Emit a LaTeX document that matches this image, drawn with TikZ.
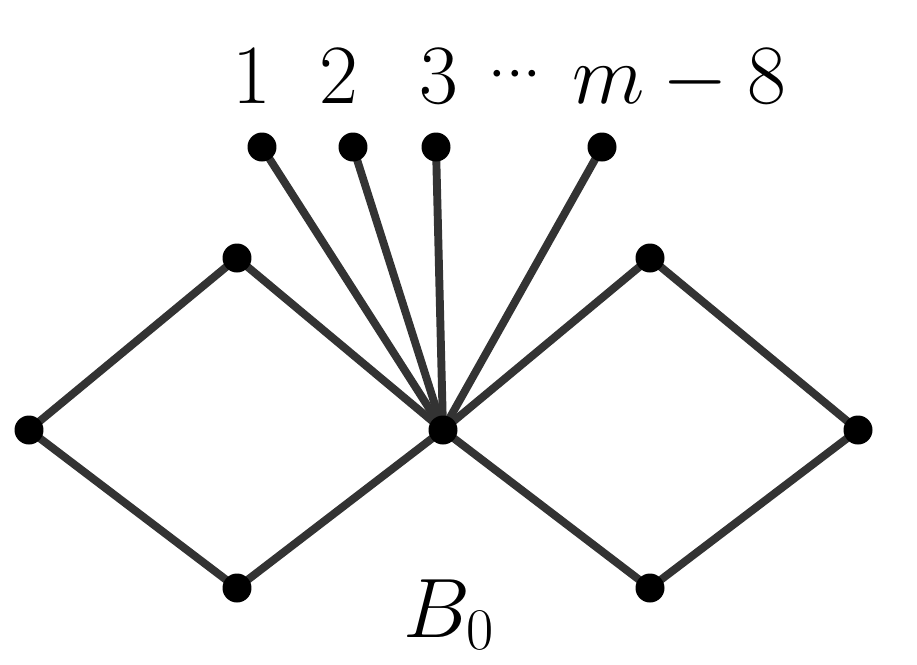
\documentclass[tikz,border=0pt]{standalone}
\usepackage{fix-cm}

\begin{document}
\begin{tikzpicture}
[x=0.02cm,y=-0.02cm,
  nodedecorate/.style={shape=circle,fill=black,inner sep=0pt,minimum size=0.58cm},%
  edgedecorate/.style={line width=4.5pt,draw=black!80},%
  labeldecorate/.style={anchor=base,inner sep=0pt,font=\fontsize{48}{58}\selectfont}]
\useasboundingbox (0,0) rectangle (917,664);
%% nodes or vertices
\foreach \nodename/\x/\y in {c/443/430, l/29/430, lt/237/258, lb/237/588,
  r/858/430, rt/650/258, rb/650/588, t_1/262/147, t_2/353/147,
  t_3/436/147, t_4/602/147}
{
  \coordinate (\nodename) at (\x,\y);
}
%% edges or lines
\path
\foreach \startnode/\endnode in {l/lt, lt/c, c/lb, lb/l, c/rt, rt/r,
  r/rb, rb/c, c/t_1, c/t_2, c/t_3, c/t_4}
{
  (\startnode) edge[edgedecorate] (\endnode)
};
\foreach \nodename in {c, l, lt, lb, r, rt, rb, t_1, t_2, t_3, t_4}
{
  \node (v\nodename) at (\nodename) [nodedecorate] {};
}
%% labels
\foreach \labelname/\x/\labeltext in {one/252/1, two/339/2, three/439/3,
  last/679/$m-8$}
{
  \node (\labelname) at (\x,103) [labeldecorate] {\labeltext};
}
\node (dots) at (515,89) [anchor=base,inner sep=0pt,font=\fontsize{36}{40}\selectfont] {${\cdotp}{\cdotp}{\cdotp}$};
\node (B0) at (449,637) [labeldecorate] {$B_0$};
\end{tikzpicture}
\end{document}
